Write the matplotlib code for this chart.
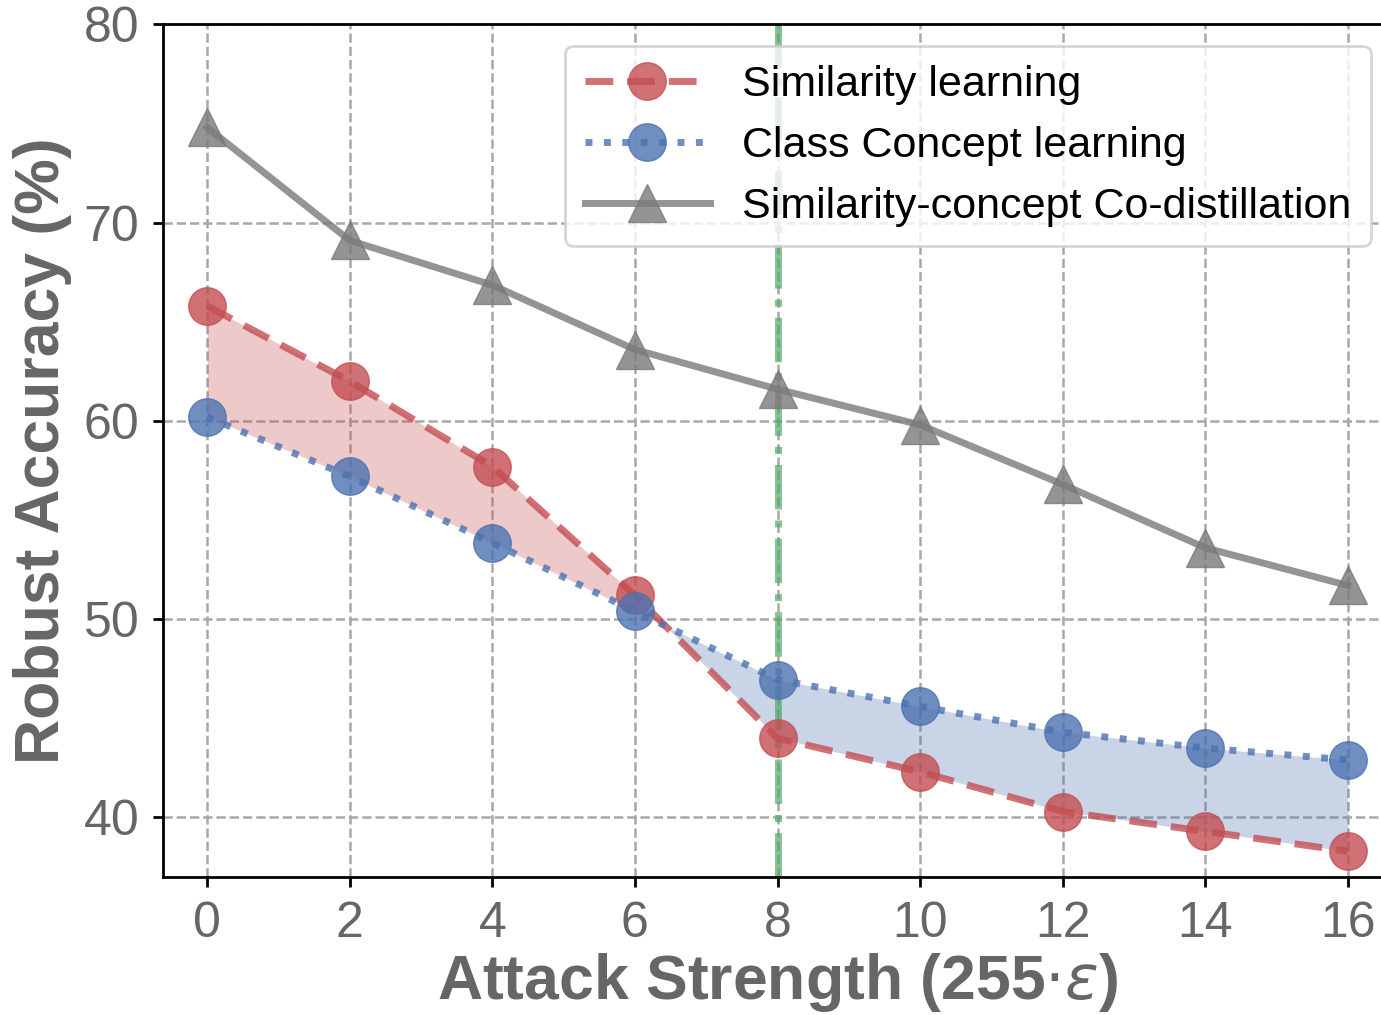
import matplotlib
matplotlib.use("Agg")
import matplotlib.pyplot as plt

plt.rcParams['font.family'] = ['Liberation Sans', 'DejaVu Sans']

eps = [0, 2, 4, 6, 8, 10, 12, 14, 16]
sim_acc = [65.8, 62.0, 57.7, 51.2, 44.0, 42.3, 40.3, 39.3, 38.3]
concept_acc = [60.2, 57.2, 53.85, 50.4, 46.95, 45.6, 44.3, 43.5, 42.9]
codistill_acc = [74.8, 69.1, 66.85, 63.6, 61.6, 59.8, 56.8, 53.6, 51.7]

red = '#c44e52'
blue = '#4c72b0'
gray = '#7a7a7a'
green = '#55a868'

fig = plt.figure(figsize=(13.81, 10.15), dpi=100)
ax = fig.add_axes([0.118, 0.136, 0.89, 0.840])

ax.plot(eps, sim_acc, linestyle='--', color=red, lw=5, marker='o', markersize=27,
        alpha=0.8, dashes=(4, 2), label='Similarity learning', zorder=3)
ax.plot(eps, concept_acc, linestyle=':', color=blue, lw=5, marker='o', markersize=27,
        alpha=0.8, label='Class Concept learning', zorder=3)
ax.plot(eps, codistill_acc, linestyle='-', color=gray, lw=5, marker='^', markersize=27,
        alpha=0.8, label='Similarity-concept Co-distillation', zorder=3)

# shade the gap between the two single-task curves
s = sim_acc
c = concept_acc
ax.fill_between(eps, s, c, where=[a >= b for a, b in zip(s, c)], interpolate=True,
                color=red, alpha=0.3, lw=0, zorder=1)
ax.fill_between(eps, s, c, where=[a <= b for a, b in zip(s, c)], interpolate=True,
                color=blue, alpha=0.3, lw=0, zorder=1)

ax.axvline(8, color=green, linestyle='-.', lw=5, alpha=0.7, zorder=2)

ax.set_xlim(-0.62, 16.62)
ax.set_ylim(37, 80)
ax.set_xticks(eps)
ax.set_yticks([40, 50, 60, 70, 80])
ax.grid(True, linestyle='--', color='#a8a8a8', lw=1.8)
ax.set_axisbelow(True)

for sp in ax.spines.values():
    sp.set_linewidth(2)
    sp.set_color('black')
ax.tick_params(axis='both', labelsize=36, labelcolor='#666666', width=2, length=7,
               color='black', pad=10)

ax.set_xlabel(r'Attack Strength (255$\cdot\varepsilon$)', fontsize=45, fontweight='bold',
              color='#666666', labelpad=3)
ax.set_ylabel('Robust Accuracy (%)', fontsize=45, fontweight='bold', color='#666666',
              labelpad=8)

leg = ax.legend(loc='upper right', fontsize=31, handlelength=2.9, handletextpad=0.75,
                borderaxespad=0.5, labelspacing=0.48, borderpad=0.45,
                fancybox=True, framealpha=0.8, edgecolor='#cccccc')
leg.get_frame().set_linewidth(2)

fig.savefig('out.png', dpi=100)
